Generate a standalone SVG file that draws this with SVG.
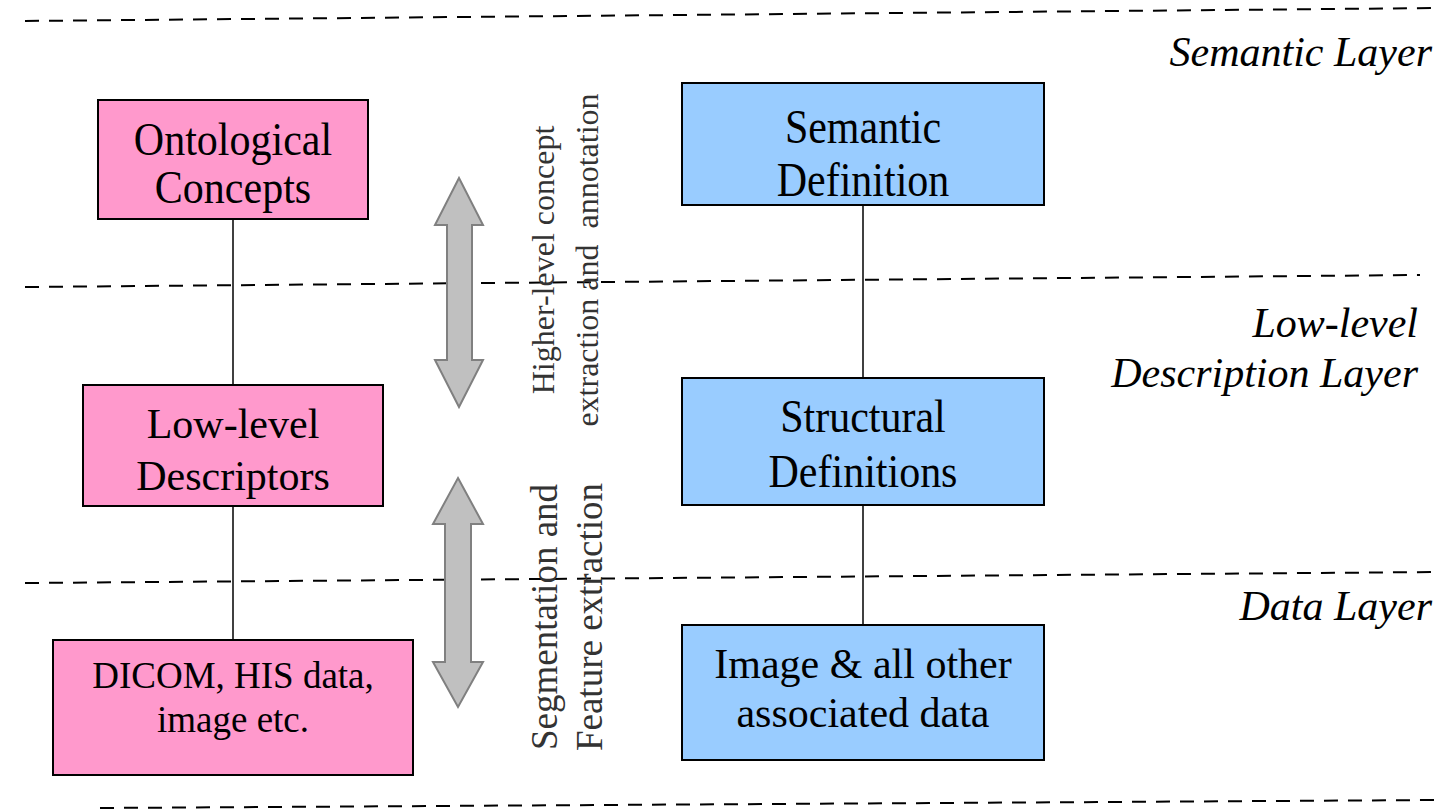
<svg xmlns="http://www.w3.org/2000/svg" width="1445" height="809" viewBox="0 0 1445 809">
  <style>
    .pink { fill: #ff99cc; stroke: #000; stroke-width: 2; }
    .blue { fill: #99ccff; stroke: #000; stroke-width: 2; }
    .lbl { font-family: "Liberation Serif", "Times New Roman", serif; font-size: 42px; fill: #000; text-anchor: middle; }
    .sm { font-size: 37px; }
    .layer { font-family: "Liberation Serif", "Times New Roman", serif; font-size: 42px; font-style: italic; fill: #000; text-anchor: end; }
    .dash { stroke: #000; stroke-width: 2; stroke-dasharray: 14 10; fill: none; }
    .conn { stroke: #000; stroke-width: 1.5; fill: none; }
    .arrow { fill: #c0c0c0; stroke: #808080; stroke-width: 2; }
    .vt { font-family: "Liberation Serif", "Times New Roman", serif; fill: #333; text-anchor: middle; white-space: pre; }
  </style>

  <g id="layer-lines">
    <line class="dash" x1="25" y1="21" x2="1440" y2="8"/>
    <line class="dash" x1="25" y1="287" x2="1420" y2="275"/>
    <line class="dash" x1="25" y1="583" x2="1440" y2="572"/>
    <line class="dash" x1="100" y1="808" x2="1440" y2="800"/>
  </g>

  <g id="layer-labels">
    <text class="layer" x="1432" y="66">Semantic Layer</text>
    <text class="layer" x="1418" y="337">Low-level</text>
    <text class="layer" x="1418" y="387">Description Layer</text>
    <text class="layer" x="1432" y="620">Data Layer</text>
  </g>

  <g id="connectors">
    <line class="conn" x1="233" y1="219" x2="233" y2="385"/>
    <line class="conn" x1="233" y1="506" x2="233" y2="640"/>
    <line class="conn" x1="863" y1="205" x2="863" y2="378"/>
    <line class="conn" x1="863" y1="505" x2="863" y2="625"/>
  </g>

  <g id="arrow-upper">
    <polygon class="arrow" points="459,178 483,225 472,225 472,360 483,360 459,407 435,360 447,360 447,225 435,225"/>
    <text class="vt" font-size="32" transform="translate(554,260) rotate(-90)"><tspan x="0" y="0">Higher-level concept</tspan><tspan x="0" y="44">extraction and  annotation</tspan></text>
  </g>

  <g id="arrow-lower">
    <polygon class="arrow" points="458,478 483,524 471,524 471,662 483,662 458,707 433,662 445,662 445,524 433,524"/>
    <text class="vt" font-size="37" transform="translate(557,617) rotate(-90)"><tspan x="0" y="0">Segmentation and</tspan><tspan x="0" y="45">Feature extraction</tspan></text>
  </g>

  <g id="ontological-concepts">
    <rect class="pink" x="98" y="100" width="270" height="119"/>
    <text class="lbl" transform="translate(233,155) scale(1,1.08)">Ontological</text>
    <text class="lbl" transform="translate(233,203) scale(1,1.08)">Concepts</text>
  </g>

  <g id="low-level-descriptors">
    <rect class="pink" x="83" y="385" width="300" height="121"/>
    <text class="lbl" x="233" y="438">Low-level</text>
    <text class="lbl" x="233" y="490">Descriptors</text>
  </g>

  <g id="dicom-his">
    <rect class="pink" x="53" y="640" width="360" height="135"/>
    <text class="lbl sm" x="233" y="688">DICOM, HIS data,</text>
    <text class="lbl sm" x="233" y="732">image etc.</text>
  </g>

  <g id="semantic-definition">
    <rect class="blue" x="682" y="83" width="362" height="122"/>
    <text class="lbl" transform="translate(863,143) scale(1,1.18)">Semantic</text>
    <text class="lbl" transform="translate(863,196) scale(1,1.18)">Definition</text>
  </g>

  <g id="structural-definitions">
    <rect class="blue" x="682" y="378" width="362" height="127"/>
    <text class="lbl" transform="translate(863,432) scale(1,1.08)">Structural</text>
    <text class="lbl" transform="translate(863,487) scale(1,1.08)">Definitions</text>
  </g>

  <g id="image-data">
    <rect class="blue" x="682" y="625" width="362" height="135"/>
    <text class="lbl" x="863" y="678">Image &amp; all other</text>
    <text class="lbl" x="863" y="727">associated data</text>
  </g>
</svg>
